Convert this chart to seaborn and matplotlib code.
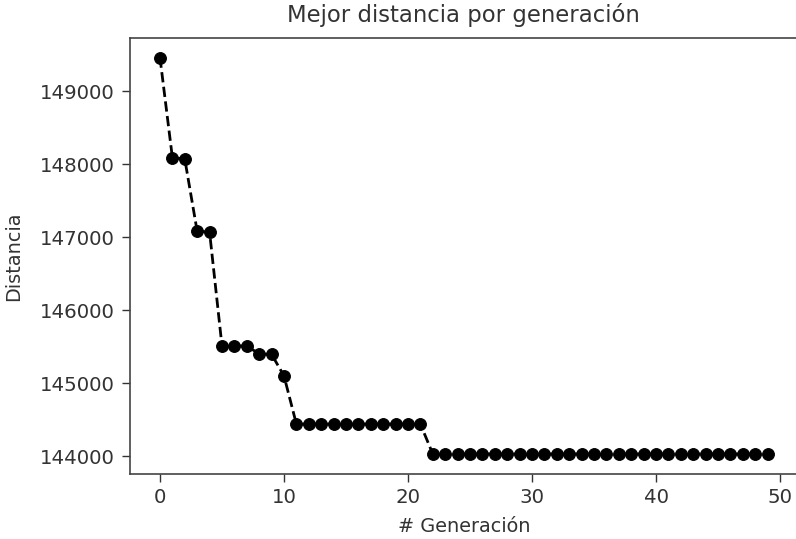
import seaborn as sns
import matplotlib.pyplot as plt
import pandas as pd

# best distance found at each generation
generacion = list(range(50))
distancia = ([149460, 148090, 148070, 147080, 147070,
              145510, 145510, 145510, 145400, 145395, 145100]
             + [144440] * 11
             + [144030] * 28)

df = pd.DataFrame({'gen': generacion, 'dist': distancia})

txt = '#333333'
fig = plt.figure(figsize=(7.96, 5.39), dpi=100)
ax = fig.add_axes([0.1628, 0.121, 0.8397, 0.809])

sns.lineplot(data=df, x='gen', y='dist', ax=ax, color='k', marker='o',
             linestyle='--', linewidth=2.0, markersize=8.5,
             markeredgecolor='k')

ax.set_title('Mejor distancia por generación', fontsize=16.4, pad=11, color=txt)
ax.set_xlabel('# Generación', fontsize=13.9, color=txt, labelpad=7)
ax.set_ylabel('Distancia', fontsize=13.9, color=txt, labelpad=12)
ax.tick_params(labelsize=14.2, length=5.5, width=1.0, colors=txt, pad=5)
ax.set_xticks([0, 10, 20, 30, 40, 50])
ax.set_yticks([144000, 145000, 146000, 147000, 148000, 149000])
for s in ax.spines.values():
    s.set_linewidth(1.2)
    s.set_color('#444444')

plt.savefig('out.png', dpi=100)
plt.close()
